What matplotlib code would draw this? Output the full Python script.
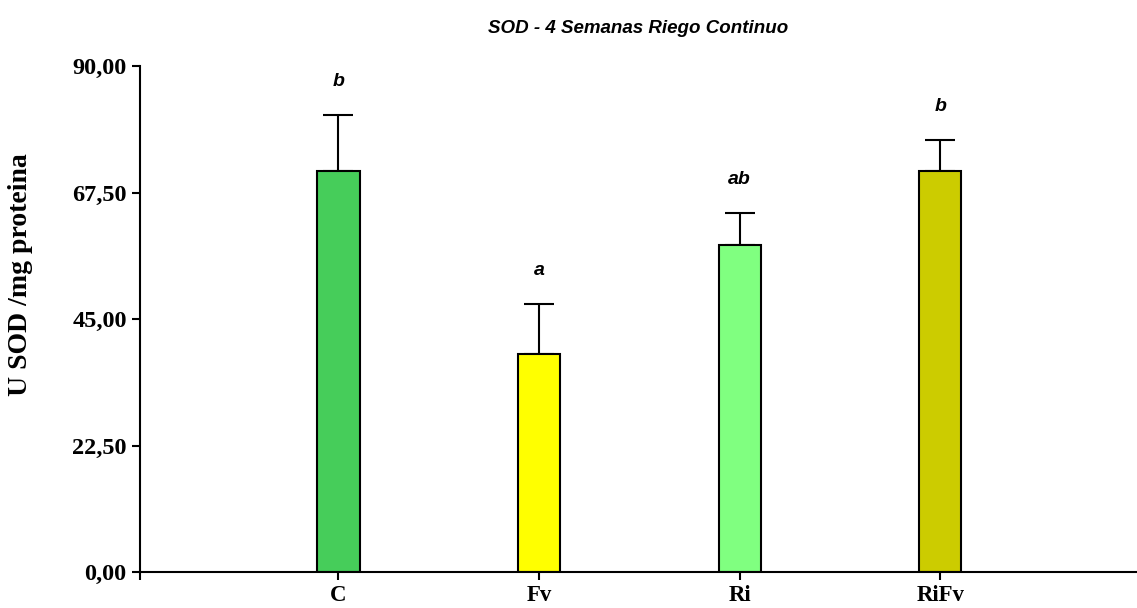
import matplotlib
matplotlib.use("Agg")
import matplotlib.pyplot as plt
import numpy as np

# Données
categories = ["C", "Fv", "Ri", "RiFv"]
means = [71.3, 38.8, 58.2, 71.3]
errors = [10.0, 8.9, 5.7, 5.5]
letters = ["b", "a", "ab", "b"]
colors = ["#46CD5A", "#FFFF00", "#80FF80", "#CCCC00"]
yticks = [0, 22.5, 45, 67.5, 90]
ytick_labels = ["0,00", "22,50", "45,00", "67,50", "90,00"]

fig = plt.figure(figsize=(11.37, 6.08), dpi=100)
ax = fig.add_axes([0.123, 0.059, 0.877, 0.832])

x = np.arange(len(categories))
ax.bar(x, means, width=0.21, color=colors, edgecolor="black", linewidth=1.5, zorder=2)
ax.errorbar(x, means, yerr=[np.zeros(len(errors)), errors], fmt="none",
            ecolor="black", elinewidth=1.5, capsize=10.5, capthick=1.5, zorder=1)

for xi, m, e, l in zip(x, means, errors, letters):
    ax.text(xi, m + e + 6.0, l, ha="center", va="center", fontsize=14,
            fontweight="bold", fontstyle="italic", family="Liberation Sans")

for s in ["top", "right"]:
    ax.spines[s].set_visible(False)
for s in ["left", "bottom"]:
    ax.spines[s].set_linewidth(1.5)

ax.set_xlim(-0.99, 3.98)
ax.set_ylim(0, 90)
ax.set_yticks(yticks)
ax.set_yticklabels(ytick_labels, family="Liberation Serif", fontweight="bold", fontsize=17.5)
ax.set_xticks(list(x) + [-0.99])
ax.set_xticklabels(categories + [""], family="Liberation Serif", fontweight="bold", fontsize=16.5)
ax.tick_params(axis="both", direction="out", length=6, width=1.5, color="black")
ax.tick_params(axis="x", pad=3)

ax.set_ylabel("U SOD /mg proteina", family="Liberation Serif", fontweight="bold", fontsize=20)
ax.yaxis.set_label_coords(-0.107, 0.589)
ax.set_title("SOD - 4 Semanas Riego Continuo", family="Liberation Sans",
             fontweight="bold", fontstyle="italic", fontsize=13.5, pad=24)

fig.savefig("out.png", dpi=100)
